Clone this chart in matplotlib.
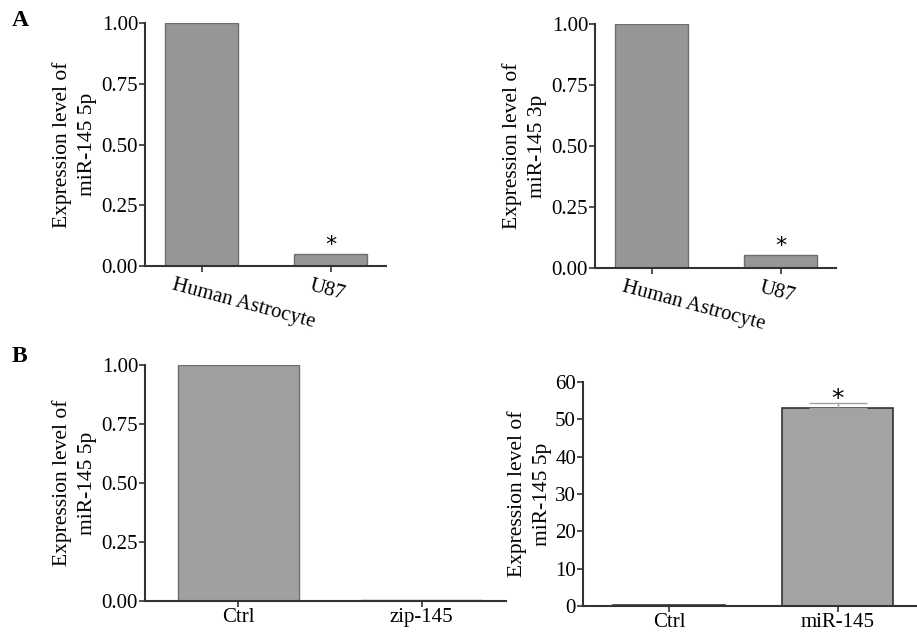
import numpy as np
import matplotlib.pyplot as plt
import matplotlib.transforms as mtransforms

plt.rcParams['font.family'] = ['Liberation Serif', 'DejaVu Serif']

# panel A: astrocyte vs U87
cells = ["Human Astrocyte", "U87"]
mir5p_cells = [1.0, 0.05]
mir3p_cells = [1.0, 0.055]

# panel B: knockdown and overexpression
zip_groups = ["Ctrl", "zip-145"]
zip_values = [1.0, 0.003]
mimic_groups = ["Ctrl", "miR-145"]
mimic_values = [0.4, 53.0]
mimic_err = [0.0, 1.5]

W, H = 917, 635
fig = plt.figure(figsize=(W / 100, H / 100), dpi=100)

def axes_px(x0, x1, ytop, ybot):
    return fig.add_axes([x0 / W, 1 - ybot / H, (x1 - x0) / W, (ybot - ytop) / H])

def style(ax):
    for s in ["top", "right"]:
        ax.spines[s].set_visible(False)
    for s in ["left", "bottom"]:
        ax.spines[s].set_linewidth(1.5)
        ax.spines[s].set_color("#333333")
    ax.tick_params(axis="both", direction="out", length=4, width=1.2,
                   color="#333333", labelsize=15, pad=1)

def panel_a(ax, vals, ylabel, star_y):
    x = np.arange(len(cells))
    ax.bar(x, vals, width=0.57, color="#969696", edgecolor="#6e6e6e", linewidth=1)
    ax.set_xlim(-0.44, 1.43)
    ax.set_ylim(0, 1.0)
    ax.set_yticks([0, 0.25, 0.5, 0.75, 1.0])
    ax.set_yticklabels(["0.00", "0.25", "0.50", "0.75", "1.00"])
    ax.set_xticks(x)
    ax.set_xticklabels([])
    # rotated category labels, placed by hand like the original
    shifts = [-27, -18]
    for xi, lab, dx in zip(x, cells, shifts):
        tr = mtransforms.blended_transform_factory(ax.transData, ax.transAxes)
        tr = tr + mtransforms.ScaledTranslation(dx / 100, -10 / 100, fig.dpi_scale_trans)
        ax.text(xi, 0, lab, transform=tr, rotation=-15, rotation_mode="anchor",
                ha="left", va="top", fontsize=15)
    ax.set_ylabel(ylabel, fontsize=15.5, labelpad=3, linespacing=1.45)
    ax.text(1, star_y, "*", ha="center", va="bottom", fontsize=16,
            family="DejaVu Sans")
    style(ax)

ax1 = axes_px(145, 386, 23, 266)
panel_a(ax1, mir5p_cells, "Expression level of\nmiR-145 5p", 0.045)
ax2 = axes_px(595, 836, 24, 268)
panel_a(ax2, mir3p_cells, "Expression level of\nmiR-145 3p", 0.05)

# B left
ax3 = axes_px(145, 506, 365, 601)
x = np.arange(len(zip_groups))
ax3.bar(x, zip_values, width=0.66, color="#a0a0a0", edgecolor="#6e6e6e", linewidth=1)
ax3.set_xlim(-0.51, 1.46)
ax3.set_ylim(0, 1.0)
ax3.set_yticks([0, 0.25, 0.5, 0.75, 1.0])
ax3.set_yticklabels(["0.00", "0.25", "0.50", "0.75", "1.00"])
ax3.set_xticks(x)
ax3.set_xticklabels(zip_groups)
ax3.set_ylabel("Expression level of\nmiR-145 5p", fontsize=15.5, labelpad=3,
               linespacing=1.45)
style(ax3)

# B right
ax4 = axes_px(583, 917, 382, 606)
x = np.arange(len(mimic_groups))
ax4.bar(x, mimic_values, width=0.66, color=["#222222", "#a3a3a3"],
        edgecolor="#333333", linewidth=1.2)
ax4.errorbar(x[1], mimic_values[1], yerr=[[0], [mimic_err[1]]], fmt="none",
             ecolor="#a0a0a0", elinewidth=1, capsize=21, capthick=1)
ax4.text(x[1], mimic_values[1] + mimic_err[1] - 2.2, "*", ha="center",
         va="bottom", fontsize=18, family="DejaVu Sans")
ax4.set_xlim(-0.51, 1.47)
ax4.set_ylim(0, 60)
ax4.set_yticks(np.arange(0, 61, 10))
ax4.set_xticks(x)
ax4.set_xticklabels(mimic_groups)
ax4.set_ylabel("Expression level of\nmiR-145 5p", fontsize=15.5, labelpad=2,
               linespacing=1.45)
style(ax4)

fig.text(12 / W, 1 - 21 / H, "A", fontsize=17, fontweight="bold", va="center")
fig.text(12 / W, 1 - 357 / H, "B", fontsize=17, fontweight="bold", va="center")

fig.savefig("out.png", dpi=100)
